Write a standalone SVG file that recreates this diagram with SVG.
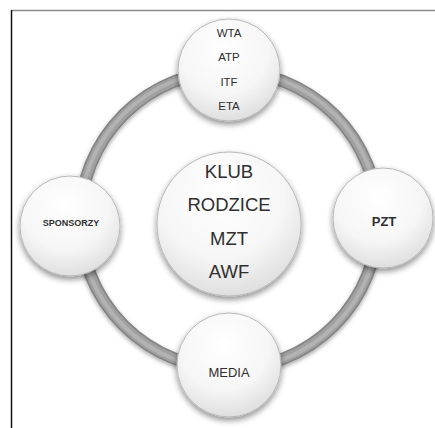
<svg xmlns="http://www.w3.org/2000/svg" width="435" height="428" viewBox="0 0 435 428">
<style>
.node{fill:url(#ng);stroke:#b8b8b8;stroke-width:1;filter:url(#sh)}
.t{font-family:"Liberation Sans",Arial,sans-serif;fill:#2f2f2f;text-anchor:middle}
</style>
<defs>
<radialGradient id="ng" cx="0.45" cy="0.3" r="0.8">
<stop offset="0" stop-color="#ffffff"/>
<stop offset="0.55" stop-color="#f6f6f6"/>
<stop offset="1" stop-color="#d6d6d6"/>
</radialGradient>
<filter id="sh" x="-30%" y="-30%" width="160%" height="170%">
<feGaussianBlur in="SourceAlpha" stdDeviation="3"/>
<feOffset dy="3" result="b"/>
<feComponentTransfer><feFuncA type="linear" slope="0.45"/></feComponentTransfer>
<feMerge><feMergeNode/><feMergeNode in="SourceGraphic"/></feMerge>
</filter>
<filter id="rsh" x="-10%" y="-10%" width="120%" height="125%">
<feGaussianBlur in="SourceAlpha" stdDeviation="2"/>
<feOffset dy="2"/>
<feComponentTransfer><feFuncA type="linear" slope="0.35"/></feComponentTransfer>
<feMerge><feMergeNode/><feMergeNode in="SourceGraphic"/></feMerge>
</filter>
</defs>
<rect width="435" height="428" fill="#ffffff"/>
<line x1="11" y1="10.5" x2="435" y2="10.5" stroke="#8a8a8a" stroke-width="1.5"/>
<line x1="11.5" y1="10" x2="11.5" y2="428" stroke="#111" stroke-width="1.5"/>
<g id="connectors">
<g filter="url(#rsh)">
<circle cx="229" cy="220" r="149" fill="none" stroke="#858585" stroke-width="12.5"/>
<circle cx="229" cy="220" r="149" fill="none" stroke="#a0a0a0" stroke-width="9"/>
<circle cx="229" cy="220" r="149.5" fill="none" stroke="#b2b2b2" stroke-width="4"/>
</g>
</g>
<g id="node-top">
<circle class="node" cx="229" cy="70" r="51"/>
<text class="t" x="229" y="37" font-size="11.5">WTA</text>
<text class="t" x="229" y="61" font-size="11.5">ATP</text>
<text class="t" x="229" y="86" font-size="11.5">ITF</text>
<text class="t" x="229" y="110" font-size="11.5">ETA</text>
</g>
<g id="node-left">
<circle class="node" cx="70" cy="226" r="50"/>
<text class="t" x="71" y="226" font-size="9" font-weight="bold">SPONSORZY</text>
</g>
<g id="node-right">
<circle class="node" cx="383" cy="218" r="50"/>
<text class="t" x="384" y="226" font-size="13" font-weight="bold">PZT</text>
</g>
<g id="node-bottom">
<circle class="node" cx="229" cy="365" r="52"/>
<text class="t" x="229" y="377" font-size="13">MEDIA</text>
</g>
<g id="node-center">
<circle class="node" cx="229" cy="224" r="72"/>
<text class="t" x="229" y="178" font-size="18.5">KLUB</text>
<text class="t" x="229" y="211" font-size="18.5">RODZICE</text>
<text class="t" x="229" y="245" font-size="18.5">MZT</text>
<text class="t" x="229" y="278" font-size="18.5">AWF</text>
</g>
</svg>
